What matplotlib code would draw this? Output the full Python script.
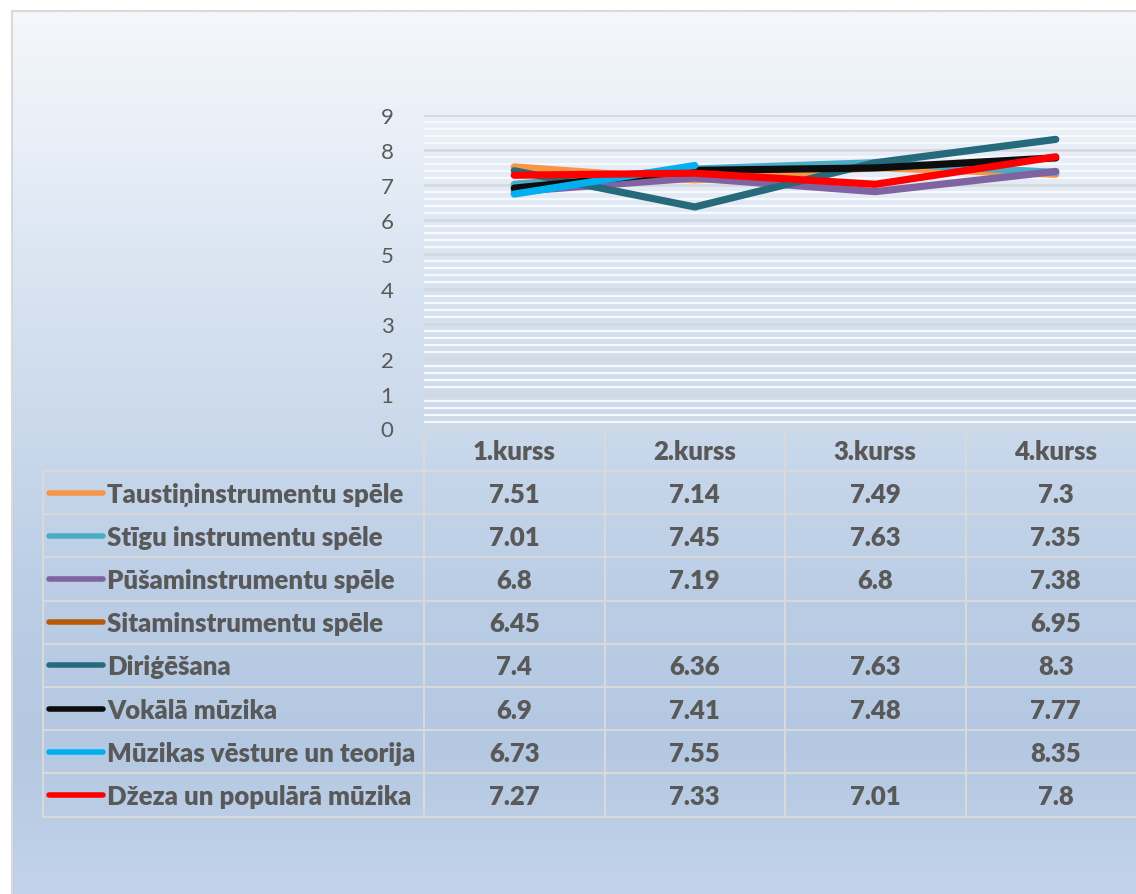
import numpy as np
import matplotlib
matplotlib.use("Agg")
import matplotlib.pyplot as plt
from matplotlib.colors import LinearSegmentedColormap

plt.rcParams['font.family'] = ['Lato', 'DejaVu Sans']

categories = ['1.kurss', '2.kurss', '3.kurss', '4.kurss']
series_names = ['Taustiņinstrumentu spēle', 'Stīgu instrumentu spēle',
                'Pūšaminstrumentu spēle', 'Sitaminstrumentu spēle',
                'Diriģēšana', 'Vokālā mūzika', 'Mūzikas vēsture un teorija',
                'Džeza un populārā mūzika']
taustin = [7.51, 7.14, 7.49, 7.3]
stigu = [7.01, 7.45, 7.63, 7.35]
pusam = [6.8, 7.19, 6.8, 7.38]
sitam = [6.45, None, None, 6.95]
dirig = [7.4, 6.36, 7.63, 8.3]
vokala = [6.9, 7.41, 7.48, 7.77]
vesture = [6.73, 7.55, None, 8.35]
dzeza = [7.27, 7.33, 7.01, 7.8]
series_values = [taustin, stigu, pusam, sitam, dirig, vokala, vesture, dzeza]
colors = ['#F79646', '#4BACC6', '#8064A2', '#B65A0A', '#266B7C', '#0D0D0D',
          '#00B0F0', '#FF0000']
yticks = [0, 1, 2, 3, 4, 5, 6, 7, 8, 9]

W, H = 1136, 895
fig = plt.figure(figsize=(W / 100, H / 100), dpi=100)
fig.patch.set_facecolor('white')

# background / table layer in pixel coordinates
bg = fig.add_axes([0, 0, 1, 1], zorder=0)
bg.set_xlim(0, W)
bg.set_ylim(H, 0)
bg.axis('off')
stops = [(0.0, '#F4F7FB'), (0.16, '#E7EEF7'), (0.33, '#D6E2F0'),
         (0.67, '#BACDE5'), (0.83, '#B4C8E2'), (1.0, '#C2D3E9')]
cmap = LinearSegmentedColormap.from_list('bgg', stops)
grad = np.linspace(0, 1, 300).reshape(-1, 1)
bg.imshow(grad, cmap=cmap, aspect='auto', extent=(12, W + 5, H, 12), zorder=0)
bg.plot([12, 12, W + 5], [H + 5, 12, 12], color='#D9D9D9', lw=1.5, zorder=1)

# plot area geometry (pixels)
px_left, px_top, px_bottom = 424.0, 116.0, 429.5
col_w = 180.5
px_right = px_left + col_w * len(categories)
ax = fig.add_axes([px_left / W, (H - px_bottom) / H,
                   (px_right - px_left) / W, (px_bottom - px_top) / H], zorder=2)
ax.set_facecolor('none')
ax.set_xlim(-0.5, len(categories) - 0.5)
ax.set_ylim(0, 9)
for s in ax.spines.values():
    s.set_visible(False)
ax.set_xticks([])
ax.set_yticks(yticks)
ax.set_yticklabels([str(t) for t in yticks])
ax.tick_params(axis='y', length=0, pad=22, labelsize=16, labelcolor='#595959')
for yv in np.arange(0, 9.01, 0.2):
    if abs(yv - round(yv)) < 1e-6:
        continue
    ax.axhline(yv, color='#F7F9FC', lw=1.6, zorder=1)
for yv in yticks:
    ax.axhline(yv, color='#D4D7DC', lw=1.8, zorder=1.5)

x = np.arange(len(categories))
for vals, c in zip(series_values, colors):
    v = np.array([np.nan if a is None else a for a in vals], dtype=float)
    ax.plot(x, v, color=c, lw=5.2, solid_capstyle='round',
            solid_joinstyle='round', zorder=3)

# data table
tcol = '#595959'
gcol = '#D9D9D9'
leg_left = 43.0
header_top = 430.0
row_top = 472.0
row_h = 43.2
n = len(series_names)
table_bottom = row_top + n * row_h
bg.plot([px_left, W + 5], [header_top, header_top], color=gcol, lw=1.5, zorder=2)
for i in range(n + 1):
    yy = row_top + i * row_h
    bg.plot([leg_left, W + 5], [yy, yy], color=gcol, lw=1.5, zorder=2)
bg.plot([leg_left, leg_left], [row_top, table_bottom], color=gcol, lw=1.5, zorder=2)
for j in range(len(categories) + 1):
    xx = px_left + j * col_w
    bg.plot([xx, xx], [header_top, table_bottom], color=gcol, lw=1.5, zorder=2)

fs = 18.5
fw = 'heavy'
for j, cat in enumerate(categories):
    cx = px_left + (j + 0.5) * col_w
    bg.text(cx, (header_top + row_top) / 2 + 1, cat, ha='center', va='center',
            fontsize=fs, fontweight=fw, color=tcol, zorder=3)
for i, (name, vals, c) in enumerate(zip(series_names, series_values, colors)):
    cy = row_top + (i + 0.5) * row_h
    bg.plot([49, 103], [cy, cy], color=c, lw=4, solid_capstyle='round', zorder=3)
    bg.text(107, cy + 1, name, ha='left', va='center', fontsize=fs,
            fontweight=fw, color=tcol, zorder=3)
    for j, v in enumerate(vals):
        if v is None:
            continue
        cx = px_left + (j + 0.5) * col_w
        bg.text(cx, cy + 1, f'{v:g}', ha='center', va='center', fontsize=fs,
                fontweight=fw, color=tcol, zorder=3)

fig.savefig('out.png', dpi=100)
